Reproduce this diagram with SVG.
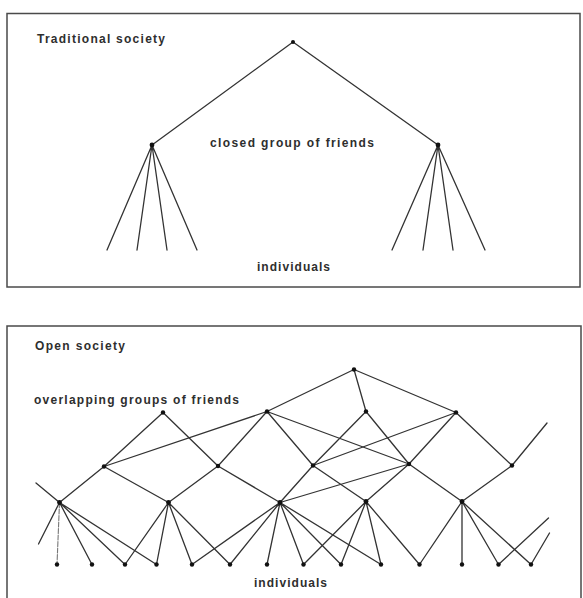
<svg xmlns="http://www.w3.org/2000/svg" width="583" height="598" viewBox="0 0 583 598">
<style>
.bg{fill:#ffffff}
.frame{fill:none;stroke:#4a4a4a;stroke-width:1.5}
.e{stroke:#333;stroke-width:1.3;fill:none;stroke-linecap:round}
.faint{stroke:#777;stroke-width:1.1;stroke-dasharray:5 1.5}
.n{fill:#111}
.t{font-family:"Liberation Sans",Arial,sans-serif;font-weight:bold;font-size:12px;fill:#2e2e2e}
</style>
<rect class="bg" x="0" y="0" width="583" height="598"/>
<g id="frames">
<rect class="frame" x="7" y="13.5" width="573" height="273.5"/>
<path class="frame" d="M7,600 V326 H581 V600"/>
</g>
<g id="labels">
<text class="t" x="37" y="42.5" textLength="128" lengthAdjust="spacing">Traditional society</text>
<text class="t" x="210" y="146.5" textLength="164" lengthAdjust="spacing">closed group of friends</text>
<text class="t" x="257" y="271" textLength="73" lengthAdjust="spacing">individuals</text>
<text class="t" x="35" y="349.5" textLength="90" lengthAdjust="spacing">Open society</text>
<text class="t" x="34" y="403.5" textLength="205" lengthAdjust="spacing">overlapping groups of friends</text>
<text class="t" x="254" y="586.5" textLength="73" lengthAdjust="spacing">individuals</text>
</g>
<g id="connectors">
<!-- traditional -->
<path class="e" d="M293,42 L152,145 M293,42 L438,145"/>
<path class="e" d="M152,145 L107,250 M152,145 L137,250 M152,145 L167,250 M152,145 L197,250"/>
<path class="e" d="M438,145 L392,250 M438,145 L423,250 M438,145 L453,250 M438,145 L485,250"/>
<!-- open: upper levels -->
<path class="e" d="M354,369.5 L267,411.5 M354,369.5 L366,411.5 M354,369.5 L456,412.5"/>
<path class="e" d="M163,412.5 L104,466.5 M163,412.5 L218,466"/>
<path class="e" d="M267,411.5 L104,466.5 M267,411.5 L218,466 M267,411.5 L409,464 M267,411.5 L313,465.5"/>
<path class="e" d="M366,411.5 L313,465.5 M366,411.5 L409,464"/>
<path class="e" d="M456,412.5 L313,465.5 M456,412.5 L409,464 M456,412.5 L512,465.5"/>
<path class="e" d="M104,466.5 L59.5,502.5 M104,466.5 L168.5,502.5"/>
<path class="e" d="M218,466 L168.5,502.5 M218,466 L280,502.5"/>
<path class="e" d="M313,465.5 L280,502.5 M313,465.5 L366,501.5"/>
<path class="e" d="M409,464 L280,502.5 M409,464 L366,501.5 M409,464 L462,501.5"/>
<path class="e" d="M512,465.5 L462,501.5 M512,465.5 L547,423"/>
<!-- open: to individuals -->
<path class="e" d="M59.5,502.5 L36,483 M59.5,502.5 L38.5,544"/>
<path class="e faint" d="M59.5,502.5 L57,564.5"/>
<path class="e" d="M59.5,502.5 L92,564.5 M59.5,502.5 L125,564.5 M59.5,502.5 L156.5,564.5"/>
<path class="e" d="M168.5,502.5 L125,564.5 M168.5,502.5 L156.5,564.5 M168.5,502.5 L192,564.5 M168.5,502.5 L230,564.5"/>
<path class="e" d="M280,502.5 L192,564.5 M280,502.5 L230,564.5 M280,502.5 L267,564.5 M280,502.5 L303.5,564.5 M280,502.5 L341,564.5 M280,502.5 L381,564.5"/>
<path class="e" d="M366,501.5 L303.5,564.5 M366,501.5 L341,564.5 M366,501.5 L381,564.5 M366,501.5 L419.5,564.5"/>
<path class="e" d="M462,501.5 L419.5,564.5 M462,501.5 L462,564.5 M462,501.5 L498.5,564.5 M462,501.5 L531,564.5"/>
<path class="e" d="M498.5,564.5 L548.5,518 M531,564.5 L549.5,533"/>
</g>
<g id="trad-top"><circle class="n" cx="293" cy="42" r="2"/></g>
<g id="trad-left"><circle class="n" cx="152" cy="145" r="2.4"/></g>
<g id="trad-right"><circle class="n" cx="438" cy="145" r="2.4"/></g>
<g id="open-T"><circle class="n" cx="354" cy="369.5" r="2.2"/></g>
<g id="open-A"><circle class="n" cx="163" cy="412.5" r="2.2"/></g>
<g id="open-B"><circle class="n" cx="267" cy="411.5" r="2.2"/></g>
<g id="open-H"><circle class="n" cx="366" cy="411.5" r="2.2"/></g>
<g id="open-I"><circle class="n" cx="456" cy="412.5" r="2.2"/></g>
<g id="open-C"><circle class="n" cx="104" cy="466.5" r="2.2"/></g>
<g id="open-D"><circle class="n" cx="218" cy="466" r="2.2"/></g>
<g id="open-J"><circle class="n" cx="313" cy="465.5" r="2.2"/></g>
<g id="open-K"><circle class="n" cx="409" cy="464" r="2.2"/></g>
<g id="open-L"><circle class="n" cx="512" cy="465.5" r="2.2"/></g>
<g id="open-E"><circle class="n" cx="59.5" cy="502.5" r="2.4"/></g>
<g id="open-F"><circle class="n" cx="168.5" cy="502.5" r="2.4"/></g>
<g id="open-G"><circle class="n" cx="280" cy="502.5" r="2.4"/></g>
<g id="open-M"><circle class="n" cx="366" cy="501.5" r="2.4"/></g>
<g id="open-N"><circle class="n" cx="462" cy="501.5" r="2.4"/></g>
<g id="ind-1"><circle class="n" cx="57" cy="564.5" r="2.2"/></g>
<g id="ind-2"><circle class="n" cx="92" cy="564.5" r="2.2"/></g>
<g id="ind-3"><circle class="n" cx="125" cy="564.5" r="2.2"/></g>
<g id="ind-4"><circle class="n" cx="156.5" cy="564.5" r="2.2"/></g>
<g id="ind-5"><circle class="n" cx="192" cy="564.5" r="2.2"/></g>
<g id="ind-6"><circle class="n" cx="230" cy="564.5" r="2.2"/></g>
<g id="ind-7"><circle class="n" cx="267" cy="564.5" r="2.2"/></g>
<g id="ind-8"><circle class="n" cx="303.5" cy="564.5" r="2.2"/></g>
<g id="ind-9"><circle class="n" cx="341" cy="564.5" r="2.2"/></g>
<g id="ind-10"><circle class="n" cx="381" cy="564.5" r="2.2"/></g>
<g id="ind-11"><circle class="n" cx="419.5" cy="564.5" r="2.2"/></g>
<g id="ind-12"><circle class="n" cx="462" cy="564.5" r="2.2"/></g>
<g id="ind-13"><circle class="n" cx="498.5" cy="564.5" r="2.2"/></g>
<g id="ind-14"><circle class="n" cx="531" cy="564.5" r="2.2"/></g>
</svg>
